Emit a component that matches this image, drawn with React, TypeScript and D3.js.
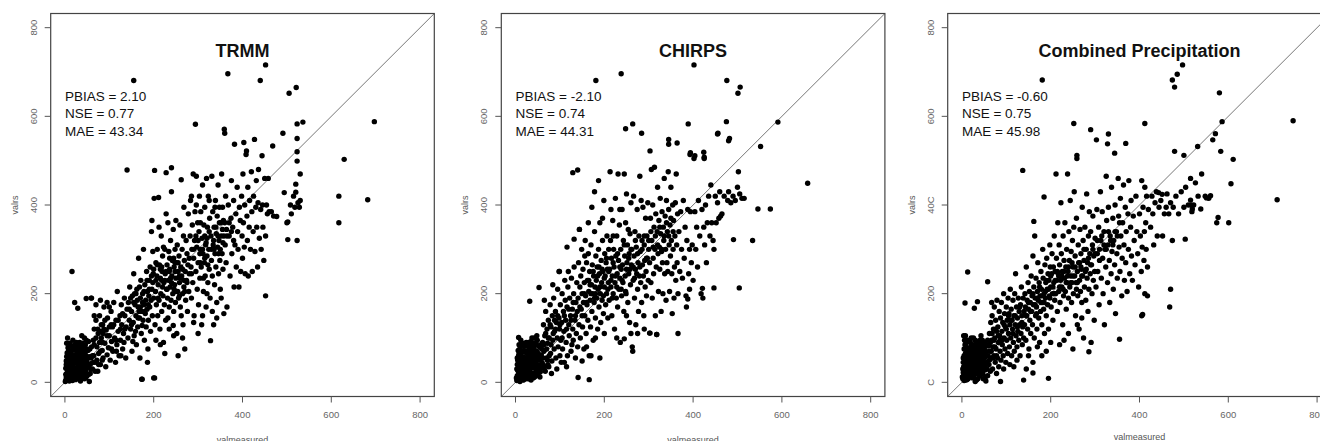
import React from 'react';
import * as d3 from 'd3';

const trmmPoints: [number, number][] = [
  [2,5],[3,12],[4,20],[5,30],[6,8],[7,42],[8,18],[9,55],[10,3],[10,26],[11,65],[12,35],[13,10],[14,48],[15,22],[16,72],[17,4],[18,38],[19,58],[20,15],[21,28],[22,85],[23,45],[24,6],[25,62],[26,33],[27,18],[28,52],[29,75],[30,10],[31,40],[32,25],[33,90],[34,60],[35,3],[36,48],[37,30],[38,70],[39,14],[40,55],[41,38],[42,82],[43,22],[44,8],[45,65],[46,44],[47,28],[48,95],[49,50],[50,15],[52,72],[54,35],[55,2],[56,58],[58,42],[60,80],[3,48],[5,66],[7,78],[4,88],[6,100],[9,40],[12,50],[14,5],[18,95],[20,60],[24,78],[28,32],[30,68],[34,12],[38,105],[42,60],[46,85],[8,70],[11,15],[15,40],[19,30],[22,10],[26,90],[32,55],[36,20],[40,72],[44,100],[2,32],[4,58],[6,22],[13,82],[17,25],[21,48],[25,12],[27,68],[29,40],[31,85],[33,36],[35,68],[37,52],[39,88],[41,20],[43,46],[45,30],[47,10],[49,75],[51,38],[53,92],[57,20],[59,55],
  [1,2],[2,18],[3,40],[5,15],[6,62],[8,32],[9,10],[10,50],[11,88],[12,22],[14,65],[16,10],[18,78],[20,45],[22,25],[24,55],[26,72],[28,15],[30,50],[32,38],[34,80],[36,62],[38,28],[40,40],[42,12],[44,70],[46,20],[48,60],[50,42],[52,55],[54,18],[56,75],[58,30],[62,60],[64,45],[66,85],[68,25],[70,100],[72,50],[74,120],[76,40],[78,90],[80,70],[82,130],[84,50],[86,110],
  [62,30],[64,95],[65,60],[66,120],[68,45],[70,140],[72,80],[74,25],[75,110],[76,65],[78,150],[80,40],[82,100],[84,72],[85,130],[86,55],[88,170],[90,88],[92,35],[93,118],[95,62],[96,145],[98,78],[100,105],[102,50],[104,160],[105,92],[107,125],[108,70],[110,180],[112,100],[114,45],[115,140],[117,85],[118,205],[120,115],[122,60],[124,150],[125,95],[127,175],[128,130],[130,75],[132,110],[134,190],[135,150],[137,55],[138,125],[140,165],[70,175],[80,185],[95,180],[100,170],[66,150],[60,190],[88,120],[104,130],[116,70],[126,60],[133,90],
  [120,140],[125,120],[130,155],[135,120],[110,130],[115,95],[100,125],[105,75],[95,105],[90,140],[85,90],[80,115],
  [142,100],[143,180],[145,140],[146,215],[148,120],[150,160],[151,70],[152,195],[154,135],[155,245],[156,105],[158,175],[160,150],[161,85],[162,210],[164,125],[165,170],[166,280],[168,145],[169,55],[170,190],[171,230],[172,110],[173,160],[174,7],[175,200],[176,140],[177,300],[178,175],[179,95],[180,220],[181,155],[182,185],[183,125],[184,250],[185,165],[186,205],[187,75],[188,140],[189,195],[190,230],[191,170],[192,260],[193,115],[194,185],[195,340],[196,210],[197,150],[198,295],[199,245],[200,190],[157,200],[163,185],[167,160],[174,128],[159,115],[148,190],[153,92],[186,45],[200,10],[140,479],[155,681],[196,365],
  [145,165],[150,130],[155,180],[160,200],[165,145],[170,170],[175,180],[180,160],[185,230],[190,210],[195,240],[168,215],[178,205],[188,175],[198,225],
  [201,415],[202,478],[203,130],[204,205],[205,270],[206,175],[207,240],[208,300],[209,150],[210,220],[211,417],[212,185],[213,265],[214,120],[215,235],[216,200],[217,330],[218,160],[219,250],[220,285],[221,195],[222,90],[223,225],[224,175],[225,300],[226,245],[227,140],[228,473],[229,210],[230,265],[231,190],[232,360],[233,230],[234,295],[235,170],[236,255],[237,215],[238,320],[239,185],[240,484],[241,240],[242,275],[243,200],[244,345],[245,160],[246,260],[247,220],[248,300],[249,180],[250,235],[251,270],[252,110],[253,310],[254,205],[255,250],[256,190],[257,285],[258,225],[259,355],[260,170],[261,260],[262,457],[263,240],[264,300],[265,200],[266,130],[267,330],[268,215],[269,275],[270,75],[271,250],[272,185],[273,320],[274,230],[275,290],[276,160],[277,265],[278,380],[279,205],[280,245],[205,95],[215,85],[225,65],[235,120],[245,105],[255,60],[265,100],[240,430],[250,365],[228,380],[212,350],[268,395],[222,305],[232,145],[262,150],[244,128],[218,260],[236,280],[246,210],[258,195],[248,250],
  [200,255],[205,230],[210,190],[215,255],[220,215],[225,230],[230,210],[235,250],[240,225],[245,280],[250,205],[255,270],[260,235],[265,255],[270,205],[275,225],[280,280],[208,265],[218,230],[228,250],[238,235],[248,270],[258,240],[268,230],
  [282,330],[283,410],[284,260],[285,190],[286,300],[287,355],[288,225],[289,470],[290,280],[291,150],[292,320],[293,385],[294,582],[295,250],[296,465],[297,305],[298,210],[299,360],[300,270],[301,175],[302,340],[303,420],[304,235],[305,300],[306,385],[307,260],[308,130],[309,325],[310,445],[311,290],[312,205],[313,355],[314,270],[315,395],[316,240],[317,310],[318,170],[319,460],[320,285],[321,350],[322,225],[323,420],[324,300],[325,255],[326,370],[327,190],[328,94],[329,330],[330,275],[331,465],[332,240],[333,385],[334,310],[335,130],[336,350],[337,220],[338,290],[339,410],[340,260],[341,335],[342,180],[343,375],[344,305],[345,445],[346,245],[347,320],[348,395],[349,275],[350,210],[351,360],[352,330],[353,470],[354,290],[355,395],[356,255],[357,365],[358,155],[359,571],[360,562],[361,310],[362,420],[363,270],[364,345],[365,170],[290,135],[300,110],[310,150],[320,200],[332,160],[342,145],[352,190],[285,420],[296,400],[305,360],[315,330],[325,410],[338,395],[348,360],[358,330],[312,235],[322,265],[336,300],[346,290],[356,315],[304,290],[318,315],
  [285,245],[290,300],[295,330],[300,320],[305,270],[310,300],[315,280],[320,325],[325,340],[330,300],[335,320],[340,350],[345,330],[350,300],[355,345],[360,360],[365,330],[370,360],[375,340],[380,320],
  [367,696],[368,400],[370,330],[372,240],[374,370],[375,455],[376,290],[378,350],[380,410],[381,215],[382,537],[383,310],[385,380],[386,260],[388,440],[389,340],[390,300],[392,215],[393,395],[395,365],[396,250],[398,420],[399,330],[400,280],[401,470],[402,360],[403,541],[404,305],[405,400],[406,245],[408,514],[409,522],[410,375],[411,320],[412,440],[413,240],[415,350],[416,410],[418,300],[420,475],[421,385],[422,250],[424,340],[425,420],[427,548],[428,295],[430,395],[431,455],[432,350],[434,260],[435,405],[436,480],[438,325],[440,681],[441,390],[442,300],[444,511],[445,400],[446,350],[448,275],[450,460],[452,716],[452,195],[452,330],[454,400],[456,380],[458,460],[460,385],
  [465,385],[468,533],[470,375],[477,374],[491,562],[494,428],[500,360],[502,362],[502,322],[505,652],[508,400],[510,380],[515,420],[518,395],[520,447],[520,429],[521,665],[523,583],[523,550],[523,520],[523,499],[523,320],[525,405],[528,395],[530,410],[536,587],[530,470],
  [617,420],[617,360],[629,503],[682,412],[697,588],[16,250],[22,180],[29,167],[48,189],[59,190],[173,7],[202,10],
];

const chirpsPoints: [number, number][] = [
  [3,4],[4,15],[5,28],[6,9],[7,40],[8,20],[9,52],[10,2],[11,33],[12,62],[13,12],[14,45],[15,25],[16,70],[17,6],[18,36],[19,56],[20,18],[21,82],[22,30],[23,48],[24,8],[25,66],[26,38],[27,22],[28,58],[29,90],[30,14],[31,44],[32,28],[33,75],[34,55],[35,5],[36,40],[37,100],[38,64],[39,20],[40,50],[41,32],[42,78],[43,12],[44,60],[45,42],[46,88],[47,26],[48,70],[49,16],[50,54],[52,36],[54,80],[56,24],[58,62],[60,44],[5,50],[6,72],[8,85],[9,30],[12,95],[14,22],[16,42],[18,5],[20,68],[22,55],[24,90],[26,15],[28,40],[30,78],[32,60],[34,20],[36,85],[38,45],[40,10],[42,100],[44,35],[46,65],[48,105],[50,30],[7,60],[10,75],[13,50],[15,88],[17,35],[19,12],[21,42],[23,70],[25,28],[27,52],[29,8],[31,65],[33,38],[35,92],[37,18],[39,72],[41,58],[43,88],[45,20],[47,48],[49,95],[53,60],[55,12],[57,85],[59,32],[4,40],[6,26],[11,18],
  [2,10],[3,30],[4,55],[5,5],[6,42],[7,22],[8,65],[9,14],[10,48],[11,80],[12,28],[14,58],[15,10],[17,48],[19,72],[21,22],[23,38],[25,85],[27,35],[29,62],[31,20],[33,50],[35,70],[37,35],[39,58],[41,15],[43,70],[45,50],[47,85],[49,40],[51,65],[53,22],[55,50],[57,40],[59,75],[62,55],[64,85],[66,35],[68,110],[70,75],[72,50],[74,100],[76,60],[78,130],[80,85],[85,110],[88,140],
  [61,90],[62,40],[63,130],[64,70],[66,105],[67,25],[68,160],[70,55],[71,120],[72,88],[74,140],[75,35],[76,100],[78,175],[79,65],[80,125],[82,48],[83,150],[84,95],[86,190],[87,75],[88,115],[90,160],[91,55],[92,135],[94,100],[95,210],[96,80],[98,145],[99,120],[100,60],[101,175],[102,95],[104,135],[105,200],[106,75],[108,160],[109,115],[110,45],[112,185],[113,140],[114,90],[116,170],[117,60],[118,215],[120,130],[121,105],[122,190],[124,150],[125,70],[126,235],[128,165],[129,120],[130,95],[131,200],[132,260],[134,140],[135,55],[136,180],[137,110],[138,225],[139,160],[140,80],[65,185],[73,40],[81,20],[93,30],[103,45],[115,35],[127,85],[119,250],[111,230],[98,250],[84,220],
  [110,150],[115,120],[120,165],[125,140],[130,180],[135,150],[100,130],[105,100],[95,150],[90,120],
  [141,190],[142,270],[143,130],[144,345],[145,215],[146,100],[147,240],[148,165],[149,300],[150,200],[151,125],[152,255],[153,180],[154,75],[155,225],[156,150],[157,320],[158,195],[159,110],[160,270],[161,175],[162,230],[163,140],[164,290],[165,205],[166,60],[167,250],[168,185],[169,125],[170,310],[171,220],[172,160],[173,265],[174,200],[175,95],[176,240],[177,180],[178,340],[179,215],[180,145],[181,285],[182,230],[183,190],[184,260],[185,120],[186,210],[187,300],[188,170],[189,245],[190,360],[191,200],[192,135],[193,275],[194,225],[195,185],[196,320],[197,250],[198,155],[199,410],[200,215],[201,290],[202,240],[203,175],[204,270],[205,200],[206,330],[207,255],[208,145],[209,225],[210,300],[150,48],[160,80],[170,60],[180,100],[190,55],[200,110],[178,430],[187,455],[196,370],[164,360],[156,285],[172,395],
  [145,170],[150,150],[155,200],[160,180],[165,230],[170,200],[175,250],[180,200],[185,240],[190,215],[195,255],[200,235],[205,280],[210,250],[168,220],[178,190],[188,260],[198,195],[208,210],
  [211,185],[212,255],[213,475],[214,320],[215,215],[216,280],[217,150],[218,240],[219,365],[220,200],[221,300],[222,260],[223,120],[224,225],[225,415],[226,285],[227,190],[228,330],[229,245],[230,170],[231,470],[232,275],[233,210],[234,355],[235,235],[236,90],[237,300],[238,255],[239,195],[240,390],[241,265],[242,225],[243,320],[244,160],[245,470],[246,285],[247,240],[248,360],[249,200],[250,425],[251,270],[252,310],[253,180],[254,345],[255,245],[256,290],[257,135],[258,335],[259,220],[260,405],[261,265],[262,300],[263,80],[264,70],[265,230],[266,420],[267,285],[268,190],[269,340],[270,255],[271,130],[272,305],[273,245],[274,390],[275,210],[276,270],[277,160],[278,330],[279,240],[280,465],[281,295],[282,225],[283,410],[284,180],[285,320],[286,265],[287,395],[288,240],[289,150],[290,310],[291,275],[292,215],[293,370],[294,250],[295,195],[296,330],[297,280],[298,405],[299,230],[300,300],[220,330],[235,390],[250,150],[260,110],[275,110],[290,120],[245,98],[228,100],[215,390],
  [215,230],[220,270],[225,240],[230,290],[235,260],[240,230],[245,310],[250,255],[255,280],[260,300],[265,260],[270,320],[275,290],[280,260],[285,300],[290,330],[295,280],[218,190],[228,215],[238,210],[248,205],[258,255],[268,235],
  [302,270],[303,111],[304,370],[305,225],[306,480],[307,320],[308,190],[309,400],[310,280],[311,245],[312,350],[313,485],[314,300],[315,150],[316,380],[317,260],[318,108],[319,340],[320,440],[321,290],[322,205],[323,365],[324,305],[325,255],[326,415],[327,335],[328,160],[329,295],[330,385],[331,270],[332,200],[333,350],[334,320],[335,460],[336,245],[337,375],[338,300],[339,185],[340,410],[341,270],[342,340],[343,250],[344,475],[345,390],[346,310],[347,205],[348,355],[349,285],[350,440],[351,320],[352,245],[353,155],[354,400],[355,300],[356,365],[357,190],[358,260],[359,330],[360,405],[361,230],[362,470],[363,310],[364,270],[365,380],[366,200],[368,340],[370,250],[372,385],[374,300],[376,235],[378,410],[380,280],[382,350],[384,195],[386,320],[388,390],[390,245],[392,300],[394,385],[396,270],[398,310],[400,230],[385,170],[388,188],[392,210],
  [300,320],[305,340],[310,305],[315,330],[320,310],[325,350],[330,300],[335,330],[340,360],[345,330],[350,370],[355,340],
  [402,505],[404,385],[406,300],[408,350],[410,260],[412,410],[415,330],[418,200],[420,390],[422,190],[424,350],[425,505],[426,310],[428,400],[430,270],[432,360],[435,420],[438,330],[440,445],[442,360],[445,320],[447,300],[450,420],[452,360],[455,405],[458,370],[460,430],[462,375],[465,380],[470,420],[478,410],[480,430],[485,405],[490,420],[495,410],[500,440],[502,475],[505,425],[510,415],[515,415],[455,560],[480,545],
  [402,716],[238,696],[181,681],[476,681],[506,666],[501,652],[248,572],[264,583],[284,562],[389,583],[475,588],[456,562],[482,550],[591,587],[552,532],[345,548],[345,537],[364,540],[394,518],[393,514],[404,511],[424,519],[425,508],[303,522],[129,473],[140,479],[658,449],[546,391],[574,391],[534,320],[491,322],[504,213],[447,213],[421,212],[99,250],[32,183],[53,214],[141,11],[166,6],[302,111],[318,108],[366,110],[7,101],[144,345],[132,323],[116,305],
];

const combinedPoints: [number, number][] = [
  [2,8],[3,22],[4,35],[5,4],[6,50],[7,15],[8,65],[9,28],[10,42],[11,6],[12,78],[13,20],[14,55],[15,33],[16,92],[17,12],[18,45],[19,68],[20,25],[21,100],[22,38],[23,58],[24,10],[25,82],[26,30],[27,48],[28,70],[29,18],[30,95],[31,40],[32,62],[33,5],[34,35],[35,78],[36,52],[37,22],[38,88],[39,44],[40,14],[41,66],[42,30],[43,105],[44,50],[45,25],[46,75],[47,40],[48,8],[49,60],[50,90],[52,28],[54,70],[56,45],[58,15],[60,82],[3,55],[5,75],[6,95],[8,105],[4,105],[7,38],[9,88],[11,58],[13,45],[15,72],[17,28],[19,90],[21,14],[23,80],[25,52],[27,12],[29,40],[31,86],[33,58],[35,20],[37,68],[39,32],[41,95],[43,55],[45,70],[47,20],[49,35],[51,55],[53,12],[55,85],[57,30],[59,60],[10,20],[12,35],[14,8],[16,48],[18,62],[20,40],[22,75],[24,30],[26,100],[28,55],[30,2],[32,22],[34,92],[36,8],[38,60],[40,80],[42,42],[44,18],[46,58],[48,85],
  [1,12],[2,30],[3,45],[4,15],[5,60],[6,28],[7,85],[8,45],[9,5],[10,70],[11,32],[12,52],[13,95],[14,25],[16,65],[18,20],[20,80],[22,50],[24,65],[26,20],[28,85],[30,45],[32,75],[34,50],[36,30],[38,75],[40,52],[42,88],[44,35],[46,95],[48,48],[50,65],[52,80],[54,40],[56,60],[58,95],[62,50],[64,90],[66,70],[68,110],[70,55],[72,95],[74,80],[76,120],[78,60],[82,105],[86,95],
  [61,40],[62,110],[63,70],[64,25],[65,135],[66,55],[67,95],[68,150],[69,30],[70,80],[71,120],[72,60],[73,170],[74,100],[75,45],[76,140],[77,75],[78,115],[79,185],[80,55],[81,125],[82,90],[83,35],[84,160],[85,105],[86,70],[87,145],[88,50],[89,180],[90,115],[91,85],[92,135],[93,60],[94,200],[95,100],[96,155],[97,75],[98,125],[99,45],[100,170],[101,95],[102,140],[103,65],[104,190],[105,110],[106,155],[107,80],[108,130],[109,210],[110,100],[111,165],[112,60],[113,140],[114,120],[115,185],[116,90],[117,150],[118,70],[119,200],[120,130],[121,245],[122,105],[123,170],[124,80],[125,145],[126,115],[127,190],[128,95],[129,160],[130,130],[131,60],[132,175],[133,110],[134,215],[135,150],[136,85],[137,125],[138,190],[139,100],[140,160],[67,180],[78,20],[94,30],[108,40],[124,50],[117,35],
  [110,140],[115,110],[120,150],[125,125],[130,170],[135,135],[100,120],[105,150],[95,130],[90,95],
  [141,130],[142,200],[143,170],[144,95],[145,260],[146,150],[147,185],[148,120],[149,225],[150,165],[151,75],[152,205],[153,140],[154,180],[155,110],[156,240],[157,160],[158,195],[159,130],[160,285],[161,175],[162,215],[163,100],[164,330],[165,190],[166,150],[167,235],[168,170],[169,120],[170,205],[171,270],[172,185],[173,145],[174,225],[175,90],[176,195],[177,160],[178,250],[179,210],[180,130],[181,180],[182,300],[183,235],[184,165],[185,200],[186,110],[187,265],[188,190],[189,225],[190,150],[191,280],[192,210],[193,175],[194,245],[195,120],[196,230],[197,195],[198,310],[199,260],[200,215],[201,170],[202,245],[203,290],[204,200],[205,140],[206,260],[207,225],[208,330],[209,185],[210,250],[150,60],[160,45],[170,80],[180,60],[190,70],[200,90],[145,30],
  [145,150],[150,180],[155,160],[160,200],[165,175],[170,190],[175,215],[180,195],[185,180],[190,230],[195,210],[200,240],[205,215],[210,230],[168,155],[178,180],[188,205],[198,190],[208,200],
  [211,200],[212,470],[213,280],[214,230],[215,160],[216,360],[217,245],[218,205],[219,310],[220,265],[221,180],[222,230],[223,405],[224,290],[225,215],[226,250],[227,130],[228,330],[229,195],[230,275],[231,235],[232,360],[233,205],[234,260],[235,165],[236,300],[237,225],[238,470],[239,250],[240,190],[241,340],[242,275],[243,215],[244,410],[245,240],[246,295],[247,180],[248,225],[249,320],[250,260],[251,200],[252,350],[253,430],[254,240],[255,285],[256,150],[257,225],[258,370],[259,505],[260,250],[261,195],[262,310],[263,270],[264,120],[265,230],[266,345],[267,205],[268,290],[269,255],[270,180],[271,395],[272,240],[273,320],[274,100],[275,275],[276,215],[277,350],[278,250],[279,185],[280,300],[281,425],[282,235],[283,270],[284,160],[285,330],[286,210],[287,385],[288,290],[289,245],[290,340],[291,90],[292,265],[293,200],[294,310],[295,375],[296,230],[297,285],[298,140],[299,250],[300,325],[220,85],[230,95],[240,110],[250,75],[260,130],[270,145],
  [215,250],[220,215],[225,240],[230,250],[235,225],[240,260],[245,225],[250,240],[255,260],[260,225],[265,270],[270,240],[275,300],[280,255],[285,280],[290,265],[295,300],[218,240],[228,210],[238,240],[248,270],[258,210],[268,260],
  [302,215],[304,390],[305,290],[306,250],[308,350],[309,175],[310,275],[312,430],[313,320],[314,235],[316,385],[317,280],[318,200],[320,340],[321,130],[322,300],[324,260],[325,465],[326,365],[328,225],[329,310],[330,395],[332,275],[333,180],[334,330],[336,245],[337,440],[338,295],[340,370],[341,210],[342,320],[344,265],[345,400],[346,155],[348,340],[349,290],[350,235],[352,460],[353,375],[354,305],[356,250],[357,415],[358,330],[360,195],[361,280],[362,360],[364,445],[365,310],[366,230],[368,395],[369,270],[370,340],[372,205],[374,380],[375,300],[376,455],[378,245],[380,350],[381,410],[382,285],[384,230],[386,375],[388,320],[390,265],[392,420],[394,340],[396,290],[398,215],[400,380],[402,330],[404,250],[405,455],[406,305],[408,395],[410,275],[411,340],[412,440],[414,360],[415,300],[416,420],[418,260],[420,390],[418,195],[412,200],[405,150],
  [300,290],[305,320],[310,300],[315,330],[320,310],[325,300],[330,340],[335,320],[340,310],[345,340],[350,330],[355,360],
  [425,350],[428,420],[430,380],[432,310],[435,405],[438,430],[440,330],[444,395],[448,410],[452,330],[456,380],[460,395],[462,425],[466,380],[470,405],[476,395],[482,420],[488,380],[494,430],[500,395],[504,440],[510,400],[515,460],[518,385],[522,400],[526,450],[532,420],[540,470],[548,420],[556,415],
  [497,716],[485,695],[474,682],[479,666],[181,682],[580,653],[746,590],[412,584],[252,584],[290,570],[586,588],[571,561],[565,547],[303,547],[330,560],[328,538],[369,539],[259,512],[344,517],[479,521],[583,521],[611,503],[500,512],[531,532],[606,448],[710,412],[601,360],[577,372],[574,360],[503,323],[474,320],[470,210],[468,170],[407,153],[355,97],[137,478],[185,418],[162,363],[13,249],[58,227],[7,179],[28,167],[35,182],[139,5],[195,9],[87,2],[54,3],[286,69],[160,21],[519,391],[538,391],[515,411],[516,400],[551,416],[560,421],[443,428],[451,424],
];

const panelTitles = ['TRMM', 'CHIRPS', 'Combined Precipitation'];
const pbiasValues = ['2.10', '-2.10', '-0.60'];
const nseValues = ['0.77', '0.74', '0.75'];
const maeValues = ['43.34', '44.31', '45.98'];
const tickValues = [0, 200, 400, 600, 800];
const yTickLabels = [
  ['0', '200', '400', '600', '800'],
  ['0', '200', '400', '600', '800'],
  ['C', '200', '40C', '600', '800'],
];
const xTitle = 'valmeasured';
const yTitle = 'valrs';

const allPoints = [trmmPoints, chirpsPoints, combinedPoints];
const panelLefts = [50.7, 501.3, 947.7];
const xTitleBaselines = [443, 443, 440];

const plotW = 383.6;
const top = 13.5;
const bottom = 396.5;
const font = 'Liberation Sans, Arial, Helvetica, sans-serif';

const Panel = ({ i }: { i: number }) => {
  const left = panelLefts[i];
  const x = d3.scaleLinear().domain([-32, 832]).range([left, left + plotW]);
  const y = d3.scaleLinear().domain([-32, 832]).range([bottom, top]);
  const clipId = `clip-${i}`;
  const stats = [`PBIAS = ${pbiasValues[i]}`, `NSE = ${nseValues[i]}`, `MAE = ${maeValues[i]}`];
  const midY = (top + bottom) / 2;
  return (
    <g>
      <defs>
        <clipPath id={clipId}>
          <rect x={left} y={top} width={plotW} height={bottom - top} />
        </clipPath>
      </defs>
      <g clipPath={`url(#${clipId})`}>
        {/* 1:1 line */}
        <line x1={x(-32)} y1={y(-32)} x2={x(832)} y2={y(832)} stroke="#777" strokeWidth={1} />
        {allPoints[i].map(([mx, ry], k) => (
          <circle key={k} cx={x(mx)} cy={y(ry)} r={2.7} fill="#000" />
        ))}
      </g>
      <rect x={left} y={top} width={plotW} height={bottom - top} fill="none" stroke="#444" strokeWidth={1.2} />

      {/* x axis */}
      {tickValues.map((t) => (
        <g key={`x${t}`}>
          <line x1={x(t)} x2={x(t)} y1={bottom} y2={bottom + 6} stroke="#555" />
          <text x={x(t)} y={417.5} textAnchor="middle" fontSize={9.5} fill="#666" fontFamily={font}>{t}</text>
        </g>
      ))}
      {/* y axis */}
      {tickValues.map((t, k) => (
        <g key={`y${t}`}>
          <line x1={left - 6} x2={left} y1={y(t)} y2={y(t)} stroke="#555" />
          <text transform={`translate(${left - 14},${y(t)}) rotate(-90)`} textAnchor="middle" fontSize={9.5} fill="#666" fontFamily={font}>
            {yTickLabels[i][k]}
          </text>
        </g>
      ))}
      <text x={left + plotW / 2} y={xTitleBaselines[i]} textAnchor="middle" fontSize={9} fill="#555" fontFamily={font}>{xTitle}</text>
      <text transform={`translate(${left - 33},${midY}) rotate(-90)`} textAnchor="middle" fontSize={9} fill="#555" fontFamily={font}>{yTitle}</text>

      <text x={left + plotW / 2} y={57} textAnchor="middle" fontSize={18} fontWeight="bold" fill="#111" fontFamily={font}>{panelTitles[i]}</text>
      {stats.map((s, k) => (
        <text key={s} x={x(0)} y={100.5 + k * 17.5} fontSize={13.5} fill="#111" fontFamily={font}>{s}</text>
      ))}
    </g>
  );
};

export default function App() {
  return (
    <svg width={1320} height={441} style={{ position: 'absolute', left: 0, top: 0, background: '#fff' }}>
      <rect width={1320} height={441} fill="#fff" />
      {panelTitles.map((_, i) => <Panel key={i} i={i} />)}
    </svg>
  );
}
